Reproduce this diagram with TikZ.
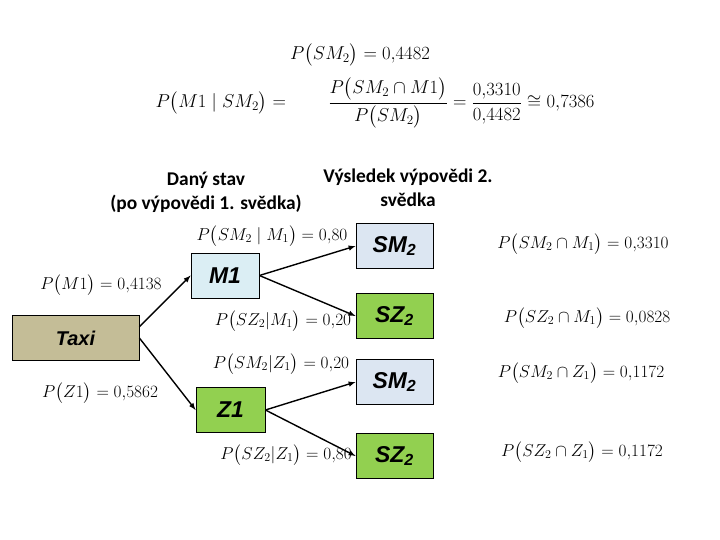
\RequirePackage{fix-cm}
\documentclass[tikz,border=0pt]{standalone}
\usepackage{amsmath,amssymb}
\usepackage{fontspec}
\setsansfont{Liberation Sans}
\newfontfamily\hdrfont{Carlito}
\usepackage{tikz}
\usetikzlibrary{arrows,%
                positioning,%
                calc
              }
\definecolor{taxifill}{RGB}{196,189,151}
\definecolor{mfill}{RGB}{219,238,244}
\definecolor{smfill}{RGB}{220,230,242}
\definecolor{szfill}{RGB}{146,208,80}
% leaves: y/name/fill/label
\def\setofleaves{246/SMa/smfill/SM, 316/SZa/szfill/SZ,
  382/SMb/smfill/SM, 456/SZb/szfill/SZ}
% joint probabilities: x/y/text
\def\setofjoints{583/244/{SM_2\cap M_1\bigr)=0{,}3310},
  587/318/{SZ_2\cap M_1\bigr)=0{,}0828},
  581/373/{SM_2\cap Z_1\bigr)=0{,}1172},
  582/452/{SZ_2\cap Z_1\bigr)=0{,}1172}}
\begin{document}
\begin{tikzpicture}[x=1bp,y=-1bp,
    state/.style={rectangle, draw, line width=0.8pt, minimum height=45bp,
      inner sep=0pt, font=\sffamily\bfseries\itshape\fontsize{23}{26}\selectfont},
    branch/.style={->, >=latex, line width=1.4pt},
    formula/.style={inner sep=0pt, font=\fontsize{17.3}{20}\selectfont},
    bigformula/.style={formula, font=\fontsize{18.7}{22}\selectfont},
    header/.style={align=center, inner sep=0pt,
      font=\hdrfont\bfseries\fontsize{19.5}{24}\selectfont}]

    \useasboundingbox (0,0) rectangle (720,540);

    %% TOP FORMULAS
    \node[bigformula] (psm) at (360,55) {$P\bigl(SM_2\bigr)=0{,}4482$};
    \node[bigformula] (bayes) at (375,103)
      {$P\bigl(M1\mid SM_2\bigr)=\qquad
        \dfrac{P\bigl(SM_2\cap M1\bigr)}{P\bigl(SM_2\bigr)}
        =\dfrac{0{,}3310}{0{,}4482}\cong 0{,}7386$};

    %% HEADERS
    \node[header] (hgiven) at (206,192) {Daný stav\\(po výpovědi 1. svědka)};
    \node[header] (hresult) at (408,188) {Výsledek výpovědi 2.\\svědka};

    %% DRAW TREE
    \node[state, fill=taxifill, minimum width=127bp,
      font=\sffamily\bfseries\itshape\fontsize{20}{24}\selectfont]
      (taxi) at (75.5,338) {Taxi};
    \node[state, fill=mfill, minimum width=68bp] (M1) at (225,275.5) {M1};
    \node[state, fill=szfill, minimum width=69bp] (Z1) at (230.5,410) {Z1};
    \foreach \y/\n/\c/\t in \setofleaves {%
      \node[state, fill=\c, minimum width=77bp] (\n) at (394.5,\y)
        {\t\textsubscript{2}};
    }

    \draw[branch] (taxi.10) -- (M1.west);
    \draw[branch] (taxi.east) -- (Z1.west);
    \draw[branch] (M1.east) -- (SMa.west);
    \draw[branch] (M1.east) -- (SZa.west);
    \draw[branch] (Z1.east) -- (SMb.west);
    \draw[branch] (Z1.east) -- (SZb.west);

    %% BRANCH LABELS
    \node[formula] (pM1) at (101,285) {$P\bigl(M1\bigr)=0{,}4138$};
    \node[formula] (pZ1) at (100,393) {$P\bigl(Z1\bigr)=0{,}5862$};
    \node[formula] (pSMa) at (272,236) {$P\bigl(SM_2\mid M_1\bigr)=0{,}80$};
    \node[formula] (pSZa) at (283,321) {$P\bigl(SZ_2|M_1\bigr)=0{,}20$};
    \node[formula] (pSMb) at (281,364) {$P\bigl(SM_2|Z_1\bigr)=0{,}20$};
    \node[formula] (pSZb) at (286,455) {$P\bigl(SZ_2|Z_1\bigr)=0{,}80$};

    %% JOINT PROBABILITIES
    \foreach \x/\y/\t [count=\n] in \setofjoints {%
      \node[formula] (j\n) at (\x,\y) {$P\bigl(\t$};
    }

  \end{tikzpicture}
\end{document}
